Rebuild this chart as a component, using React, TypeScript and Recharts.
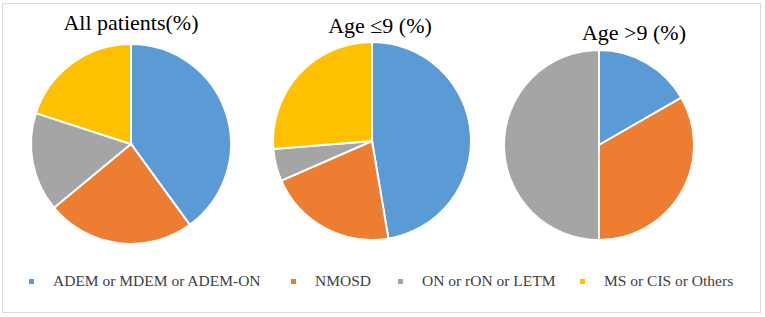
import { PieChart, Pie, Cell } from "recharts";

const categories = ["ADEM or MDEM or ADEM-ON", "NMOSD", "ON or rON or LETM", "MS or CIS or Others"];
const allPatients = [40, 24, 16, 20];
const ageUnder9 = [47.4, 21.1, 5.3, 26.3];
const ageOver9 = [16.7, 33.3, 50, 0];
const titles = ["All patients(%)", "Age \u22649 (%)", "Age >9 (%)"];

const COLORS = ["#5B9BD5", "#ED7D31", "#A5A5A5", "#FFC000"];
const FONT = "Liberation Serif";

const toRows = (vals: number[]) => categories.map((name, i) => ({ name, value: vals[i] }));

const pies = [
  { data: toRows(allPatients), cx: 131, cy: 144, r: 100 },
  { data: toRows(ageUnder9), cx: 372, cy: 141, r: 99 },
  { data: toRows(ageOver9), cx: 599, cy: 145, r: 95 },
];

// title positions (center x, top y)
const titlePos = [
  { x: 131, y: 12 },
  { x: 380, y: 15 },
  { x: 634, y: 22 },
];

// legend text left edges
const legendX = [53, 315, 422, 604];

export default function App() {
  return (
    <div style={{ position: "absolute", left: 0, top: 0, width: 765, height: 317, background: "#fff" }}>
      <div
        style={{
          position: "absolute",
          left: 2,
          top: 3,
          width: 759,
          height: 310,
          border: "1px solid #d9d9d9",
          boxSizing: "border-box",
        }}
      />
      <PieChart
        width={765}
        height={317}
        margin={{ top: 0, right: 0, bottom: 0, left: 0 }}
        style={{ position: "absolute", left: 0, top: 0 }}
      >
        {pies.map((p, k) => (
          <Pie
            key={k}
            data={p.data}
            dataKey="value"
            nameKey="name"
            cx={p.cx}
            cy={p.cy}
            outerRadius={p.r}
            startAngle={90}
            endAngle={-270}
            stroke="#fff"
            strokeWidth={2}
            isAnimationActive={false}
          >
            {p.data.map((_, i) => (
              <Cell key={i} fill={COLORS[i]} />
            ))}
          </Pie>
        ))}
      </PieChart>

      {titles.map((t, i) => (
        <div
          key={t}
          style={{
            position: "absolute",
            left: titlePos[i].x - 100,
            top: titlePos[i].y,
            width: 200,
            textAlign: "center",
            fontFamily: FONT,
            fontSize: 22,
            color: "#000",
            lineHeight: "22px",
            whiteSpace: "nowrap",
          }}
        >
          {t}
        </div>
      ))}

      {categories.map((c, i) => (
        <div key={c}>
          <span
            style={{
              position: "absolute",
              left: legendX[i] - 24,
              top: 279,
              width: 5,
              height: 5,
              background: COLORS[i],
            }}
          />
          <span
            style={{
              position: "absolute",
              left: legendX[i],
              top: 272,
              fontFamily: FONT,
              fontSize: 15.5,
              lineHeight: "18px",
              color: "#404040",
              whiteSpace: "nowrap",
            }}
          >
            {c}
          </span>
        </div>
      ))}
    </div>
  );
}
